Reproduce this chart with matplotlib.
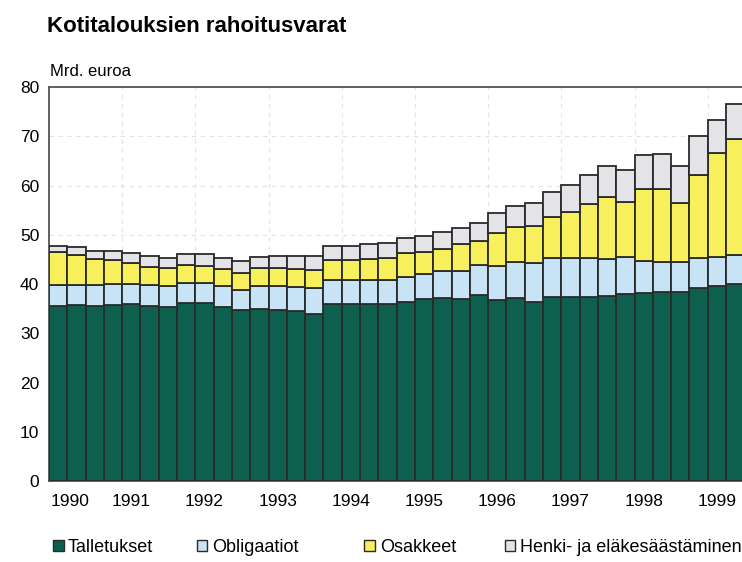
import numpy as np
import matplotlib.pyplot as plt
from matplotlib.patches import Patch
from matplotlib.transforms import ScaledTranslation

plt.rcParams['font.family'] = ['Liberation Sans', 'DejaVu Sans']

# neljännesvuodet 1990Q1 - 1999Q2, Mrd. euroa
talletukset = [35.5, 35.7, 35.6, 35.7, 35.9, 35.5, 35.4, 36.1, 36.1, 35.4,
               34.7, 34.9, 34.7, 34.5, 34.0, 35.9, 35.9, 35.9, 35.9, 36.4,
               36.9, 37.1, 37.0, 37.8, 36.8, 37.1, 36.4, 37.4, 37.4, 37.4,
               37.6, 37.9, 38.1, 38.4, 38.4, 39.2, 39.5, 40.1]
obligaatiot = [4.3, 4.1, 4.2, 4.3, 4.0, 4.3, 4.1, 4.2, 4.2, 4.1,
               4.1, 4.6, 4.8, 4.8, 5.1, 4.9, 4.9, 4.9, 4.9, 5.0,
               5.1, 5.5, 5.7, 6.1, 6.8, 7.4, 7.8, 7.9, 7.8, 7.8,
               7.5, 7.6, 6.6, 6.1, 6.1, 6.0, 5.9, 5.8]
osakkeet = [6.6, 6.1, 5.2, 4.8, 4.3, 3.7, 3.7, 3.6, 3.4, 3.5,
            3.5, 3.7, 3.7, 3.7, 3.7, 4.1, 4.1, 4.3, 4.5, 4.8,
            4.6, 4.6, 5.4, 4.8, 6.7, 7.0, 7.6, 8.4, 9.5, 11.0,
            12.6, 11.2, 14.5, 14.7, 12.0, 16.9, 21.1, 23.5]
henki_elake = [1.4, 1.7, 1.8, 1.9, 2.0, 2.2, 2.0, 2.2, 2.3, 2.2,
               2.4, 2.3, 2.5, 2.7, 2.9, 2.9, 2.9, 3.0, 3.1, 3.2,
               3.1, 3.3, 3.3, 3.6, 4.1, 4.3, 4.6, 5.0, 5.4, 5.9,
               6.3, 6.4, 6.9, 7.1, 7.5, 8.0, 6.8, 7.1]
vuodet = ['1990', '1991', '1992', '1993', '1994', '1995', '1996', '1997', '1998', '1999']
sarjat = ['Talletukset', 'Obligaatiot', 'Osakkeet', 'Henki- ja eläkesäästäminen']
varit = ['#0d604e', '#c8e3f5', '#f7ef5c', '#e4e4e8']

fig = plt.figure(figsize=(7.42, 5.62), dpi=100)
ax = fig.add_axes([0.066, 0.1441, 0.934, 0.7011])

x = np.arange(len(talletukset))
pohja = np.zeros(len(x))
for arvot, vari, nimi in zip([talletukset, obligaatiot, osakkeet, henki_elake], varit, sarjat):
    ax.bar(x, arvot, width=1.0, bottom=pohja, color=vari,
           edgecolor='#2a2a2a', linewidth=1.3, zorder=3, label=nimi)
    pohja = pohja + np.array(arvot)

ax.set_xlim(-0.5, 37.37)
ax.set_ylim(0, 80)
ax.set_yticks(np.arange(0, 81, 10))
ax.set_xticks(np.arange(len(vuodet)) * 4)
ax.set_xticklabels(vuodet)
ax.tick_params(axis='both', length=0, labelsize=12.5, pad=7)
ax.tick_params(axis='x', pad=9)
# 1990 hieman oikealle, ettei osu akseliin
eka = ax.get_xticklabels()[0]
eka.set_transform(eka.get_transform() + ScaledTranslation(0.12, 0, fig.dpi_scale_trans))

# haaleat katkoviivat taustalla
for yy in np.arange(10, 80, 10):
    ax.axhline(yy, color='#e2e2e2', lw=0.8, ls=(0, (4, 4)), zorder=1)
for xx in np.arange(1, len(vuodet)) * 4 - 0.5:
    ax.axvline(xx, color='#e2e2e2', lw=0.8, ls=(0, (4, 4)), zorder=1)

for s in ax.spines.values():
    s.set_color('#555555')
    s.set_linewidth(1.3)
ax.spines['right'].set_visible(False)

fig.text(0.063, 0.953, 'Kotitalouksien rahoitusvarat', fontsize=16, fontweight='bold',
         va='center', ha='left')
fig.text(0.067, 0.872, 'Mrd. euroa', fontsize=12, va='center', ha='left')

# selite: yksi merkintä kerrallaan omaan kohtaansa
paikat = [0.071, 0.265, 0.491, 0.680]
for i, (nimi, vari) in enumerate(zip(sarjat, varit)):
    kahva = Patch(facecolor=vari, edgecolor='#2a2a2a', linewidth=1.0)
    fig.legend([kahva], [nimi], loc='center left', bbox_to_anchor=(paikat[i], 0.026),
               frameon=False, fontsize=13, handlelength=0.6, handleheight=0.6,
               handletextpad=0.25, borderpad=0, borderaxespad=0)

fig.savefig('out.png', dpi=100)
